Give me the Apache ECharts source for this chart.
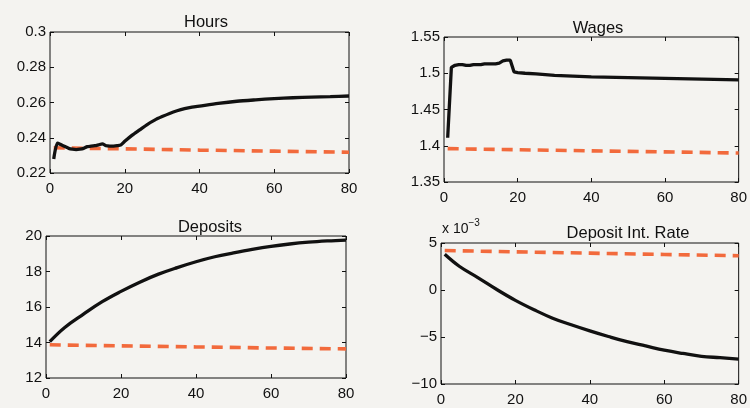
<!DOCTYPE html>
<html>
<head>
<meta charset="utf-8">
<script src="https://cdn.jsdelivr.net/npm/echarts@6/dist/echarts.min.js"></script>
<style>
  html, body { margin: 0; padding: 0; background: #f4f3f0; }
  #chart { width: 750px; height: 408px; }
</style>
</head>
<body>
<div id="chart"></div>
<script>
// Hours: model path (solid) and baseline (dashed)
const hoursX = [1,2,3,4,5,6,7,8,9,10,11,12,13,14,15,16,17,18,19,20,22,24,26,28,30,32,34,36,38,40,45,50,55,60,65,70,75,80];
const hoursY = [0.228,0.237,0.236,0.235,0.234,0.2335,0.2333,0.2335,0.234,0.235,0.2352,0.2355,0.236,0.2365,0.2355,0.2353,0.2353,0.2355,0.236,0.238,0.2415,0.2445,0.2475,0.25,0.252,0.2538,0.2553,0.2565,0.2574,0.258,0.2595,0.2607,0.2615,0.2622,0.2627,0.263,0.2633,0.2637];
const hoursBaseX = [1,20,40,60,80];
const hoursBaseY = [0.2343,0.2337,0.2330,0.2324,0.2318];

// Wages
const wagesX = [1,2,3,4,5,6,7,8,9,10,11,12,13,14,15,16,17,18,19,20,22,25,30,35,40,50,60,70,80];
const wagesY = [1.411,1.508,1.511,1.512,1.512,1.511,1.511,1.512,1.512,1.512,1.513,1.513,1.513,1.513,1.514,1.517,1.518,1.518,1.502,1.501,1.500,1.499,1.497,1.496,1.495,1.494,1.493,1.492,1.491];
const wagesBaseX = [1,20,40,60,80];
const wagesBaseY = [1.396,1.3945,1.393,1.3915,1.390];

// Deposits
const depX = [1,5,10,15,20,25,30,35,40,45,50,55,60,65,70,75,80];
const depY = [14.05,14.85,15.6,16.3,16.88,17.4,17.85,18.22,18.55,18.83,19.05,19.25,19.42,19.55,19.65,19.72,19.77];
const depBaseX = [1,20,40,60,80];
const depBaseY = [13.87,13.81,13.75,13.69,13.64];

// Deposit interest rate, in units of 1e-3
const rateX = [1,5,10,15,20,25,30,35,40,45,50,55,60,65,70,75,80];
const rateY = [3.8,2.5,1.3,0.05,-1.1,-2.1,-3.0,-3.7,-4.35,-4.95,-5.5,-5.95,-6.4,-6.75,-7.05,-7.2,-7.35];
const rateBaseX = [1,20,40,60,80];
const rateBaseY = [4.2,4.06,3.92,3.78,3.65];

// Panel titles and y-axis ranges [min, max, step]
const titles = ['Hours', 'Wages', 'Deposits', 'Deposit Int. Rate'];
const yRanges = [[0.22, 0.3, 0.02], [1.35, 1.55, 0.05], [12, 20, 2], [-10, 5, 5]];
const xTicks = [0, 80, 20];
// which panels get a smoothed solid line
const smoothing = [0.25, 0, 0.4, 0.4];

const FONT = '"Liberation Sans", Arial, Helvetica, sans-serif';
const INK = '#111';
const ORANGE = '#f26a3c';

const grids = [
  { left: 50, top: 32, width: 299, height: 141 },
  { left: 444, top: 37, width: 297, height: 145 },
  { left: 46, top: 236, width: 300, height: 142 },
  { left: 441, top: 243, width: 298, height: 141 }
];
const titlePos = [[201, 9], [593, 15], [205, 214], [623, 220]];

const pair = (xs, ys) => xs.map((x, i) => [x, ys[i]]);
const panels = [
  [pair(hoursX, hoursY), pair(hoursBaseX, hoursBaseY)],
  [pair(wagesX, wagesY), pair(wagesBaseX, wagesBaseY)],
  [pair(depX, depY), pair(depBaseX, depBaseY)],
  [pair(rateX, rateY), pair(rateBaseX, rateBaseY)]
];

function fmt(v) {
  const s = String(+v.toFixed(4));
  return s.replace('-', '\u2212');
}

const xAxis = [], yAxis = [], series = [];
grids.forEach((g, i) => {
  g.show = true;
  g.borderColor = INK;
  g.borderWidth = 1;
  g.backgroundColor = 'transparent';
  const baseX = {
    type: 'value', gridIndex: i, min: xTicks[0], max: xTicks[1], interval: xTicks[2],
    axisLine: { show: false, onZero: false },
    axisTick: { show: true, inside: true, length: 4, lineStyle: { color: INK } },
    splitLine: { show: false }
  };
  xAxis.push(Object.assign({}, baseX, {
    position: 'bottom',
    axisLabel: { color: INK, fontSize: 15, fontFamily: FONT, margin: 8 }
  }));
  xAxis.push(Object.assign({}, baseX, { position: 'top', axisLabel: { show: false } }));
  const r = yRanges[i];
  const baseY = {
    type: 'value', gridIndex: i, min: r[0], max: r[1], interval: r[2],
    axisLine: { show: false, onZero: false },
    axisTick: { show: true, inside: true, length: 4, lineStyle: { color: INK } },
    splitLine: { show: false }
  };
  yAxis.push(Object.assign({}, baseY, {
    position: 'left',
    axisLabel: { color: INK, fontSize: 15, fontFamily: FONT, margin: 4, formatter: fmt }
  }));
  yAxis.push(Object.assign({}, baseY, { position: 'right', axisLabel: { show: false } }));

  const [main, base] = panels[i];
  series.push({
    type: 'line', xAxisIndex: 2 * i, yAxisIndex: 2 * i, data: main,
    showSymbol: false, smooth: smoothing[i],
    lineStyle: { color: INK, width: 3.3 }, z: 3
  });
  series.push({
    type: 'line', xAxisIndex: 2 * i, yAxisIndex: 2 * i, data: base,
    showSymbol: false,
    lineStyle: { color: ORANGE, width: 3.6, type: [11, 7] }, z: 2
  });
});

const title = titles.map((t, i) => ({
  text: t, left: titlePos[i][0], top: titlePos[i][1], textAlign: 'center',
  textStyle: { fontFamily: FONT, fontSize: 16.5, fontWeight: 'normal', color: INK }
}));

const chart = echarts.init(document.getElementById('chart'), null, { renderer: 'canvas' });
chart.setOption({
  backgroundColor: '#f4f3f0',
  animation: false,
  title,
  grid: grids,
  xAxis, yAxis, series,
  graphic: [
    {
      type: 'text', left: 442, top: 218, z: 10,
      style: {
        text: '{b|x 10}{s|\u22123}',
        rich: {
          b: { fontFamily: FONT, fontSize: 14, fill: INK, verticalAlign: 'bottom' },
          s: { fontFamily: FONT, fontSize: 10, fill: INK, padding: [0, 0, 8, 0] }
        }
      }
    }
  ]
});
</script>
</body>
</html>
